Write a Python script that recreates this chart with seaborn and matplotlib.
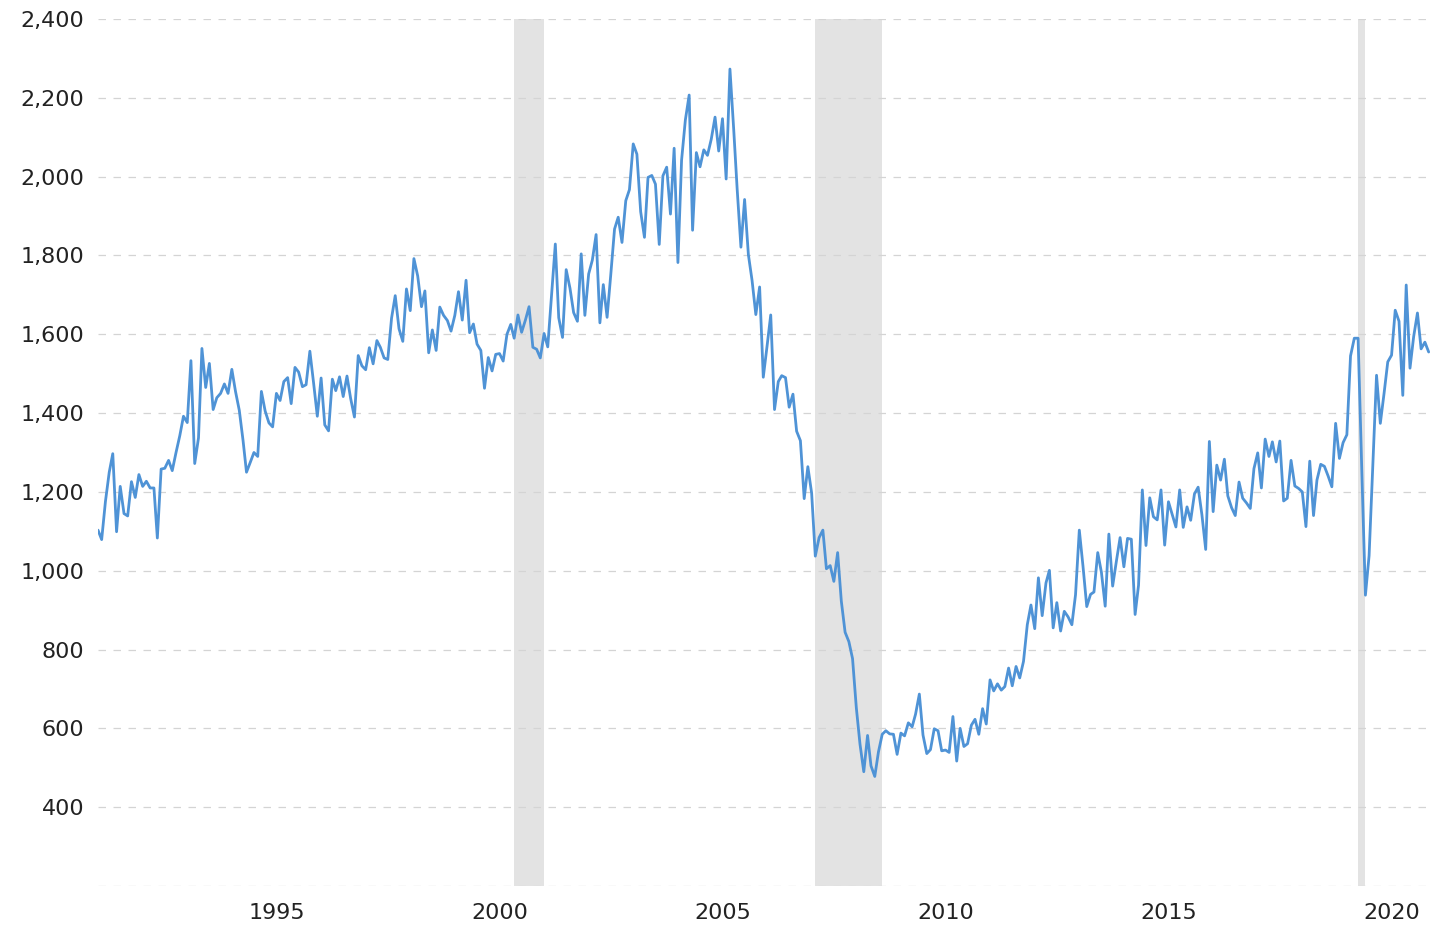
import pandas as pd
import numpy as np
import matplotlib
matplotlib.use("Agg")
import matplotlib.pyplot as plt
import matplotlib.ticker as mticker
import seaborn as sns

# Monthly values (thousands, annual rate), Nov 1991 - Sep 2021
y1991 = [1103, 1079]
y1992 = [1176, 1250, 1297, 1099, 1214, 1145, 1139, 1226, 1186, 1244, 1214, 1227]
y1993 = [1210, 1210, 1083, 1258, 1260, 1280, 1254, 1300, 1343, 1392, 1376, 1533]
y1994 = [1272, 1337, 1564, 1465, 1526, 1409, 1439, 1450, 1474, 1450, 1511, 1455]
y1995 = [1407, 1330, 1250, 1275, 1300, 1290, 1455, 1405, 1375, 1365, 1450, 1432]
y1996 = [1480, 1490, 1424, 1516, 1504, 1467, 1472, 1557, 1475, 1392, 1489, 1370]
y1997 = [1355, 1486, 1457, 1492, 1442, 1494, 1437, 1390, 1546, 1520, 1510, 1566]
y1998 = [1525, 1584, 1567, 1540, 1536, 1641, 1698, 1614, 1582, 1715, 1660, 1792]
y1999 = [1748, 1670, 1710, 1553, 1611, 1559, 1669, 1648, 1635, 1608, 1648, 1708]
y2000 = [1636, 1737, 1604, 1626, 1575, 1559, 1463, 1541, 1507, 1549, 1551, 1532]
y2001 = [1600, 1625, 1590, 1649, 1605, 1636, 1670, 1567, 1562, 1540, 1602, 1568]
y2002 = [1698, 1829, 1642, 1592, 1764, 1717, 1655, 1633, 1804, 1648, 1753, 1788]
y2003 = [1853, 1629, 1726, 1643, 1751, 1867, 1897, 1833, 1939, 1967, 2083, 2057]
y2004 = [1911, 1846, 1998, 2003, 1981, 1828, 2002, 2024, 1905, 2072, 1782, 2042]
y2005 = [2144, 2207, 1864, 2061, 2025, 2068, 2054, 2095, 2151, 2065, 2147, 1994]
y2006 = [2273, 2119, 1969, 1821, 1942, 1802, 1737, 1650, 1720, 1491, 1570, 1649]
y2007 = [1409, 1480, 1495, 1490, 1415, 1448, 1354, 1330, 1183, 1264, 1197, 1037]
y2008 = [1084, 1103, 1005, 1013, 973, 1046, 923, 844, 820, 777, 652, 560]
y2009 = [490, 582, 505, 478, 540, 585, 594, 586, 585, 534, 588, 581]
y2010 = [614, 604, 636, 687, 583, 536, 546, 599, 594, 543, 545, 539]
y2011 = [630, 517, 600, 554, 561, 608, 623, 585, 650, 611, 723, 695]
y2012 = [713, 697, 706, 753, 708, 757, 728, 770, 863, 913, 853, 982]
y2013 = [886, 969, 1001, 855, 919, 847, 897, 883, 863, 939, 1103, 1012]
y2014 = [909, 940, 946, 1046, 996, 910, 1093, 961, 1025, 1084, 1010, 1082]
y2015 = [1080, 889, 963, 1205, 1064, 1185, 1137, 1129, 1205, 1065, 1175, 1144]
y2016 = [1111, 1205, 1110, 1162, 1128, 1195, 1212, 1142, 1054, 1328, 1150, 1268]
y2017 = [1230, 1283, 1190, 1160, 1140, 1225, 1184, 1172, 1158, 1259, 1299, 1210]
y2018 = [1334, 1290, 1327, 1276, 1329, 1177, 1184, 1280, 1215, 1209, 1200, 1112]
y2019 = [1278, 1140, 1230, 1270, 1265, 1240, 1213, 1374, 1285, 1325, 1345, 1545]
y2020 = [1590, 1590, 1269, 938, 1038, 1273, 1496, 1374, 1451, 1530, 1547, 1661]
y2021 = [1633, 1445, 1725, 1514, 1594, 1654, 1563, 1580, 1555]

starts = (y1991 + y1992 + y1993 + y1994 + y1995 + y1996 + y1997 + y1998 + y1999
          + y2000 + y2001 + y2002 + y2003 + y2004 + y2005 + y2006 + y2007 + y2008
          + y2009 + y2010 + y2011 + y2012 + y2013 + y2014 + y2015 + y2016 + y2017
          + y2018 + y2019 + y2020 + y2021)

recessions = [("2001-03-01", "2001-11-01"),
              ("2007-12-01", "2009-06-01"),
              ("2020-02-01", "2020-04-01")]

tick_years = [1995, 2000, 2005, 2010, 2015, 2020]
y_ticks = list(range(200, 2401, 200))

df = pd.DataFrame({
    "date": pd.date_range("1991-11-01", periods=len(starts), freq="MS"),
    "starts": starts,
})

sns.set_theme(style="white")
plt.rcParams["font.family"] = ["DejaVu Sans"]

fig = plt.figure(figsize=(14.31, 9.31), dpi=100)
ax = fig.add_axes([98 / 1431, 45 / 931, 1 - 98 / 1431, (886 - 19) / 931])

for start, end in recessions:
    ax.axvspan(pd.Timestamp(start), pd.Timestamp(end), color="#e3e3e3", lw=0, zorder=0.2)

sns.lineplot(data=df, x="date", y="starts", color="#4f93d6", linewidth=2.0, ax=ax, zorder=3)

ax.set_ylim(200, 2400)
ax.set_xlim(pd.Timestamp("1991-11-01"), pd.Timestamp("2021-09-20"))
ax.set_yticks(y_ticks)
ax.yaxis.set_major_formatter(mticker.FuncFormatter(lambda v, p: "" if v < 300 else f"{int(v):,}"))
ax.set_xticks([pd.Timestamp(f"{y}-11-01") for y in tick_years])
ax.set_xticklabels([str(y) for y in tick_years])

ax.set_axisbelow(True)
ax.yaxis.grid(True, color="#d4d4d4", linestyle=(0, (6, 6)), linewidth=0.9)
ax.xaxis.grid(False)
for s in ax.spines.values():
    s.set_visible(False)

ax.tick_params(axis="y", length=0, pad=10, labelsize=16, labelcolor="#222222")
ax.tick_params(axis="x", length=0, pad=12, labelsize=16, labelcolor="#222222")
ax.set_xlabel("")
ax.set_ylabel("")

fig.savefig("out.png", dpi=100)
